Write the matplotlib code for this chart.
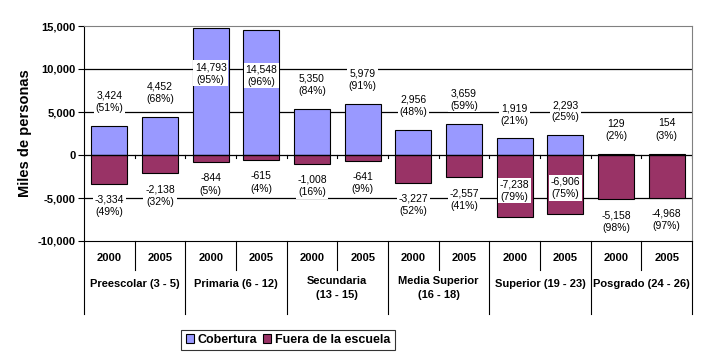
import matplotlib.pyplot as plt
import numpy as np

years = ['2000', '2005'] * 6
niveles = ['Preescolar (3 - 5)', 'Primaria (6 - 12)', 'Secundaria\n(13 - 15)',
           'Media Superior\n(16 - 18)', 'Superior (19 - 23)', 'Posgrado (24 - 26)']
cobertura = [3424, 4452, 14793, 14548, 5350, 5979, 2956, 3659, 1919, 2293, 129, 154]
cob_pct = [51, 68, 95, 96, 84, 91, 48, 59, 21, 25, 2, 3]
fuera = [-3334, -2138, -844, -615, -1008, -641, -3227, -2557, -7238, -6906, -5158, -4968]
fuera_pct = [49, 32, 5, 4, 16, 9, 52, 41, 79, 75, 98, 97]

plt.rcParams['font.family'] = ['Liberation Sans', 'DejaVu Sans']

fig = plt.figure(figsize=(7.03, 3.62), dpi=100)
ax = fig.add_axes([84/703, 1-241/362, (692-84)/703, (241-26)/362])

x = np.arange(len(years))
ax.bar(x, cobertura, width=0.71, color='#9999FF', edgecolor='black', linewidth=0.8,
       label='Cobertura', zorder=3)
ax.bar(x, fuera, width=0.71, color='#993366', edgecolor='black', linewidth=0.8,
       label='Fuera de la escuela', zorder=3)

ax.set_xlim(-0.5, 11.5)
ax.set_ylim(-10000, 15000)
ax.set_yticks([-10000, -5000, 0, 5000, 10000, 15000])
ax.set_yticklabels([f'{v:,}' for v in [-10000, -5000, 0, 5000, 10000, 15000]],
                   fontsize=8, fontweight='bold')
ax.tick_params(axis='y', length=4, width=0.8, pad=2)
for v in [-5000, 5000, 10000]:
    ax.axhline(v, color='black', linewidth=0.9, zorder=1)
ax.axhline(0, color='black', linewidth=0.9, zorder=4)
for b in np.arange(-0.5, 12, 1.0):
    ax.plot([b, b], [0, -350], color='black', linewidth=0.8, zorder=4)

ax.set_xticks([])
for s in ['top', 'right']:
    ax.spines[s].set_color('#808080')
ax.spines['left'].set_color('black')
ax.spines['bottom'].set_color('black')
ax.set_ylabel('Miles de personas', fontsize=10.5, fontweight='bold', labelpad=4)

# etiquetas de datos
for i in range(len(years)):
    c = cobertura[i]
    yc = c + 2800 if c + 2800 < 13500 else c - 5300
    ax.text(x[i], yc, f'{c:,}\n({cob_pct[i]}%)', ha='center', va='center', fontsize=7.5,
            linespacing=1.3, zorder=5,
            bbox=dict(facecolor='white', edgecolor='none', pad=1.2))
    f = fuera[i]
    yf = f - 2600 if f - 2600 > -8500 else f + 3100
    ax.text(x[i], yf, f'{f:,}\n({fuera_pct[i]}%)', ha='center', va='center', fontsize=7.5,
            linespacing=1.3, zorder=5,
            bbox=dict(facecolor='white', edgecolor='none', pad=1.2))

# eje de categorias en dos niveles
tr = ax.get_xaxis_transform()
for i, yr in enumerate(years):
    ax.text(x[i], -17/215, yr, transform=tr, ha='center', va='center',
            fontsize=8, fontweight='bold')
for b in np.arange(-0.5, 12, 1.0):
    low = -73/215 if (b + 0.5) % 2 == 0 else -29/215
    ax.plot([b, b], [0, low], transform=tr, color='black', linewidth=0.8, clip_on=False)
for g, name in enumerate(niveles):
    yy = -43/215 if '\n' not in name else -47/215
    ax.text(2*g + 0.5, yy, name, transform=tr, ha='center', va='center',
            fontsize=8, fontweight='bold', linespacing=1.6)

leg = fig.legend(loc='center', bbox_to_anchor=(288/703, 1-340/362), ncol=2,
                 frameon=True, fancybox=False, edgecolor='black',
                 prop={'weight': 'bold', 'size': 9}, handlelength=0.7, handleheight=0.7,
                 handletextpad=0.3, columnspacing=0.4, borderpad=0.35, borderaxespad=0)
leg.get_frame().set_linewidth(0.8)

fig.savefig('out.png', dpi=100)
